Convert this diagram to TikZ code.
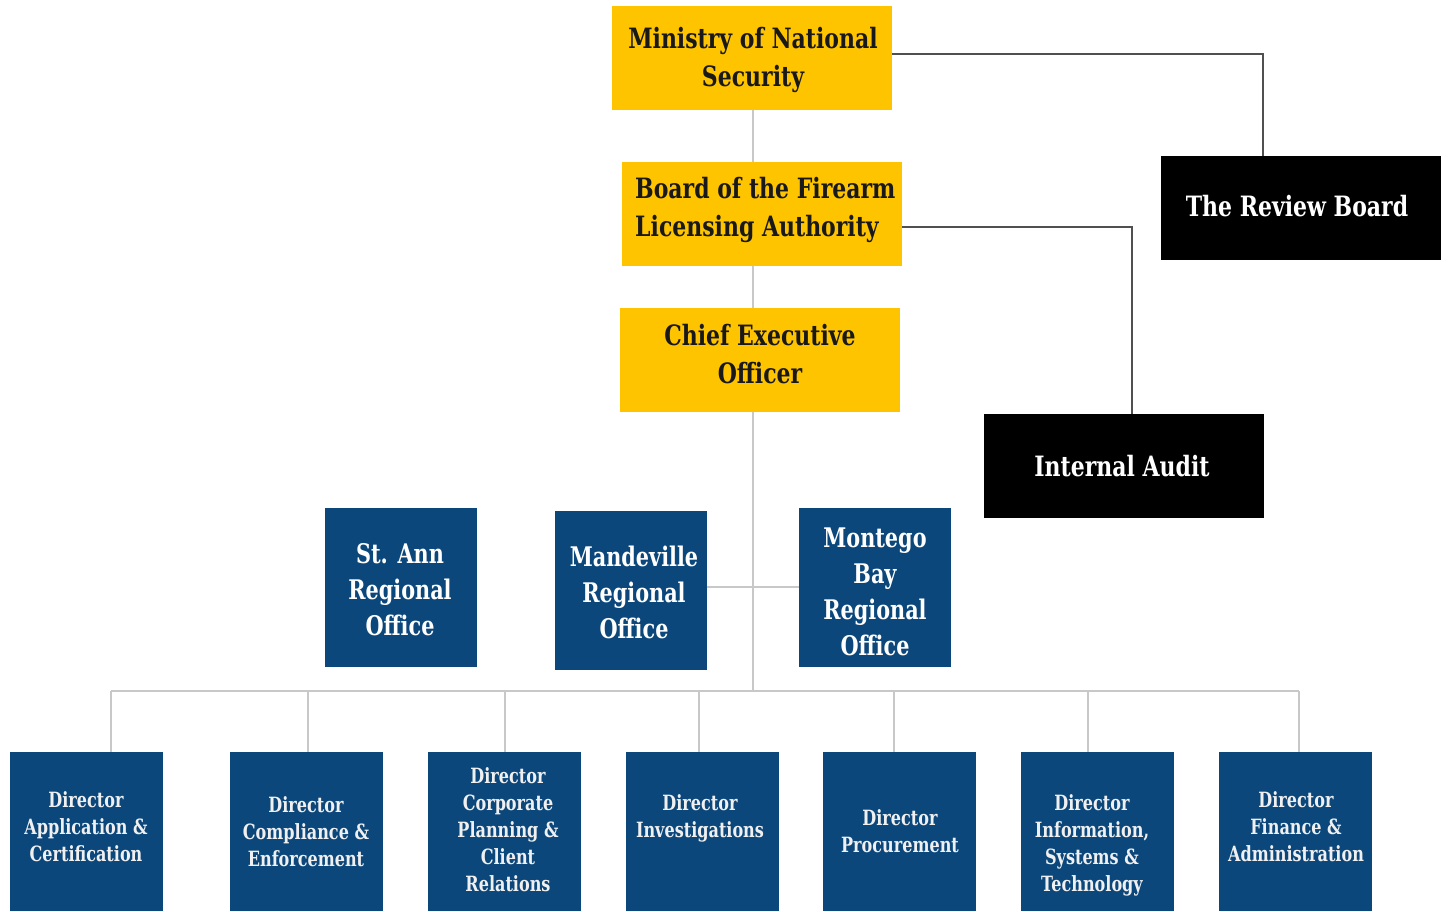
\documentclass[tikz,border=0pt]{standalone}
\usepackage{fontspec}
\setmainfont{DejaVu Serif}
\newfontfamily\hdfont{DejaVu Serif}[FakeStretch=0.785]
\newfontfamily\rgfont{DejaVu Serif}[FakeStretch=0.77]
\newfontfamily\drfont{DejaVu Serif}[FakeStretch=0.765]
\definecolor{gold}{HTML}{FFC400}
\definecolor{navy}{HTML}{0C477B}
\definecolor{treegray}{HTML}{C8C8C8}
\definecolor{sidegray}{HTML}{505050}
\begin{document}
\begin{tikzpicture}[x=1pt,y=-1pt,
  panel/.style={rectangle, inner sep=0pt, outer sep=0pt},
  topbox/.style={panel, fill=gold, minimum width=280pt, minimum height=104pt},
  blackbox/.style={panel, fill=black, minimum width=280pt, minimum height=104pt},
  regbox/.style={panel, fill=navy, minimum width=152pt, minimum height=159pt},
  dirbox/.style={panel, fill=navy, minimum width=153pt, minimum height=159pt},
  toptext/.style={inner sep=0pt, align=center, text=black!90,
    font=\hdfont\bfseries\fontsize{28}{38}\selectfont},
  blacktext/.style={toptext, text=white},
  regtext/.style={inner sep=0pt, align=center, text=white,
    font=\rgfont\bfseries\fontsize{27}{36}\selectfont},
  dirtext/.style={inner sep=0pt, align=center, text=white!94!black,
    font=\drfont\bfseries\fontsize{21}{27}\selectfont},
  tree/.style={draw=treegray, line width=2pt},
  side/.style={draw=sidegray, line width=2pt}
]
\useasboundingbox (0,0) rectangle (1448,911);

% ---- leadership chain ----
\node[topbox] (mns) at (752,58) {};
\node[toptext] (mns-t) at (753,60) {Ministry of National\\Security};
\node[topbox] (bfla) at (762,214) {};
\node[toptext, anchor=west, align=left] (bfla-t) at (635,210) {Board of the Firearm\\Licensing Authority};
\node[topbox] (ceo) at (760,359.5) {};
\node[toptext] (ceo-t) at (760,354) {Chief Executive\\Officer};

% ---- oversight bodies ----
\node[blackbox] (rev) at (1301,208) {};
\node[blacktext] (rev-t) at (1297,206) {The Review Board};
\node[blackbox] (ia) at (1124,466) {};
\node[blacktext] (ia-t) at (1122,466) {Internal Audit};

% ---- regional offices ----
\node[regbox] (stann) at (400.5,587.5) {};
\node[regtext] (stann-t) at (400,590) {St. Ann\\Regional\\Office};
\node[regbox] (mand) at (630.5,590.5) {};
\node[regtext] (mand-t) at (634,592) {Mandeville\\Regional\\Office};
\node[regbox] (mbay) at (875,587.5) {};
\node[regtext] (mbay-t) at (875,592) {Montego\\Bay\\Regional\\Office};

% ---- directorates ----
\node[dirbox] (dir1) at (86.5,831.5) {};
\node[dirtext] (dir1-t) at (86,827) {Director\\Application \&\\Certification};
\node[dirbox] (dir2) at (306,831.5) {};
\node[dirtext] (dir2-t) at (306,832) {Director\\Compliance \&\\Enforcement};
\node[dirbox] (dir3) at (504,831.5) {};
\node[dirtext] (dir3-t) at (508,830) {Director\\Corporate\\Planning \&\\Client\\Relations};
\node[dirbox] (dir4) at (702,831.5) {};
\node[dirtext] (dir4-t) at (700,818) {Director\\Investigations};
\node[dirbox] (dir5) at (899.5,831.5) {};
\node[dirtext] (dir5-t) at (900,831) {Director\\Procurement};
\node[dirbox] (dir6) at (1097,831.5) {};
\node[dirtext] (dir6-t) at (1092,845) {Director\\Information,\\Systems \&\\Technology};
\node[dirbox] (dir7) at (1295,831.5) {};
\node[dirtext] (dir7-t) at (1296,827) {Director\\Finance \&\\Administration};

% ---- reporting lines ----
\coordinate (bus) at (753,691);
\coordinate (rj) at (753,587);
\draw[tree] (mns.south -| bus) -- (bfla.north -| bus);
\draw[tree] (bfla.south -| bus) -- (ceo.north -| bus);
\draw[tree] (ceo.south -| bus) -- (bus);
\draw[tree] (mand.east |- rj) -- (mbay.west |- rj);

\coordinate (d1) at (111,691);
\coordinate (d2) at (308,691);
\coordinate (d3) at (505,691);
\coordinate (d4) at (699,691);
\coordinate (d5) at (894,691);
\coordinate (d6) at (1088,691);
\coordinate (d7) at (1299,691);
\draw[tree] (d1) -- (d7);
\foreach \i in {1,...,7} {
  \draw[tree] (d\i) -- (d\i |- dir\i.north);
}

% ---- oversight lines ----
\coordinate (rvk) at (1263,54);
\coordinate (iak) at (1132,227);
\draw[side] (mns.east |- rvk) -- (rvk) -- (rvk |- rev.north);
\draw[side] (bfla.east |- iak) -- (iak) -- (iak |- ia.north);
\end{tikzpicture}
\end{document}
